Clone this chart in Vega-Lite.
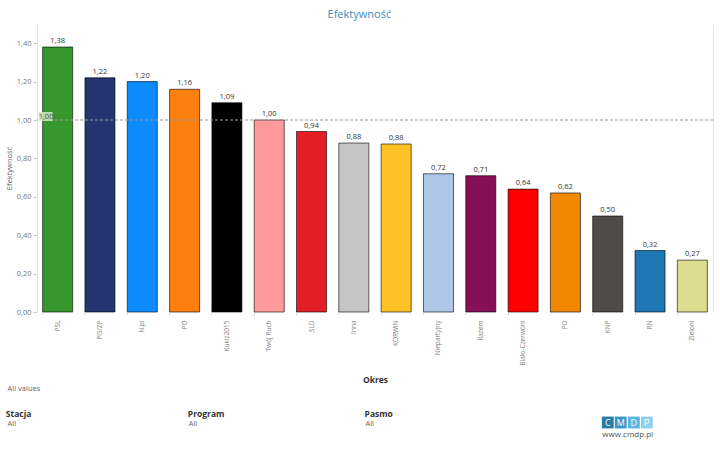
{
  "$schema": "https://vega.github.io/schema/vega-lite/v6.json",
  "background": "white",
  "padding": {"left": 5, "top": 9, "right": 6, "bottom": 0},
  "config": {
    "font": "Open Sans",
    "view": {"stroke": null},
    "locale": {"number": {"decimal": ",", "thousands": " ", "grouping": [3], "currency": ["", " zł"]}},
    "concat": {"spacing": 0}
  },
  "resolve": {"scale": {"color": "independent", "x": "independent", "y": "independent"}},
  "vconcat": [
    {
      "width": 676,
      "height": 288,
      "title": {"text": "Efektywność", "fontSize": 11, "fontWeight": "normal", "color": "#3a8dbd", "anchor": "middle", "frame": "bounds", "offset": 4},
      "layer": [
        {
          "data": {"values": [
            {"party": "PSL", "eff": 1.38},
            {"party": "PiS/ZP", "eff": 1.22},
            {"party": "N.pl", "eff": 1.20},
            {"party": "PO", "eff": 1.16},
            {"party": "Kukiz2015", "eff": 1.09},
            {"party": "Twój Ruch", "eff": 1.00},
            {"party": "SLD", "eff": 0.94},
            {"party": "Inna", "eff": 0.88},
            {"party": "KORWiN", "eff": 0.875},
            {"party": "Niepartyjny", "eff": 0.72},
            {"party": "Razem", "eff": 0.71},
            {"party": "Biało-Czerwoni", "eff": 0.64},
            {"party": "PD", "eff": 0.62},
            {"party": "KNP", "eff": 0.50},
            {"party": "RN", "eff": 0.32},
            {"party": "Zieloni", "eff": 0.27}
          ]},
          "layer": [
            {
              "mark": {"type": "bar", "stroke": "#000", "strokeOpacity": 0.6, "strokeWidth": 1},
              "encoding": {
                "x": {
                  "field": "party", "type": "nominal", "sort": null,
                  "scale": {"paddingInner": 0.29, "paddingOuter": 0.133},
                  "axis": {
                    "title": "Okres", "titleFontWeight": "bold", "titleFontSize": 8.5, "titleColor": "#333", "titlePadding": 10,
                    "labelAngle": -90, "labelFontSize": 6.5, "labelColor": "#808080", "labelPadding": 5,
                    "domain": false, "ticks": true, "bandPosition": 0, "tickColor": "#ddd", "tickSize": 3
                  }
                },
                "y": {
                  "field": "eff", "type": "quantitative",
                  "scale": {"domain": [0, 1.5]},
                  "axis": {
                    "values": [0, 0.2, 0.4, 0.6, 0.8, 1.0, 1.2, 1.4], "format": ".2f",
                    "title": "Efektywność", "titleFontSize": 7.5, "titleFontWeight": "normal", "titleColor": "#666", "titlePadding": 3,
                    "labelFontSize": 7.5, "labelColor": "#777", "labelPadding": 2,
                    "domainColor": "#e6e6e6", "tickColor": "#ccc", "tickSize": 4, "grid": false
                  }
                },
                "color": {
                  "field": "party", "type": "nominal", "legend": null,
                  "scale": {
                    "domain": ["PSL", "PiS/ZP", "N.pl", "PO", "Kukiz2015", "Twój Ruch", "SLD", "Inna", "KORWiN", "Niepartyjny", "Razem", "Biało-Czerwoni", "PD", "KNP", "RN", "Zieloni"],
                    "range": ["#37962e", "#253571", "#0b8bfd", "#fd7f10", "#000000", "#fe9a9a", "#e31e26", "#c5c5c5", "#fcc226", "#aec7e8", "#870f55", "#fe0000", "#f28700", "#504a4a", "#1f77b4", "#dbdc8d"]
                  }
                }
              }
            },
            {
              "mark": {"type": "text", "dy": -6, "fontSize": 7.5, "color": "#333"},
              "encoding": {
                "x": {"field": "party", "type": "nominal", "sort": null},
                "y": {"field": "eff", "type": "quantitative", "scale": {"domain": [0, 1.5]}},
                "text": {"field": "eff", "type": "quantitative", "format": ".2f"}
              }
            }
          ]
        },
        {
          "data": {"values": [{"ref": 1.0, "party": "PSL"}]},
          "layer": [
            {
              "mark": {"type": "rule", "strokeDash": [3, 2], "color": "#999", "strokeWidth": 1},
              "encoding": {
                "y": {"field": "ref", "type": "quantitative", "scale": {"domain": [0, 1.5]},
                  "axis": {"orient": "right", "labels": false, "ticks": false, "title": null, "domainColor": "#e3e3e3", "grid": false}}
              }
            },
            {
              "mark": {"type": "point", "shape": "M-1,-0.64L1,-0.64L1,0.64L-1,0.64Z", "size": 196, "filled": true, "fill": "#cde8bf", "opacity": 0.85, "xOffset": 3, "yOffset": -3.5},
              "encoding": {
                "x": {"field": "party", "type": "nominal", "sort": null, "bandPosition": 0},
                "y": {"field": "ref", "type": "quantitative", "scale": {"domain": [0, 1.5]}}
              }
            },
            {
              "mark": {"type": "text", "align": "left", "baseline": "middle", "dx": -4, "yOffset": -3.5, "fontSize": 7.5, "color": "#555"},
              "encoding": {
                "x": {"field": "party", "type": "nominal", "sort": null, "bandPosition": 0},
                "y": {"field": "ref", "type": "quantitative", "scale": {"domain": [0, 1.5]}},
                "text": {"field": "ref", "type": "quantitative", "format": ".2f"}
              }
            }
          ]
        }
      ],
      "resolve": {"axis": {"y": "independent"}}
    },
    {
      "width": 670,
      "height": 60,
      "data": {"values": [
        {"t": "All values", "kind": "val", "col": 0.01, "row": 0.5},
        {"t": "Stacja", "kind": "head", "col": 0, "row": 3},
        {"t": "All", "kind": "val", "col": 0.01, "row": 4},
        {"t": "Program", "kind": "head", "col": 1.04, "row": 3},
        {"t": "All", "kind": "val", "col": 1.045, "row": 4},
        {"t": "Pasmo", "kind": "head", "col": 2.05, "row": 3},
        {"t": "All", "kind": "val", "col": 2.055, "row": 4}
      ]},
      "encoding": {
        "x": {"field": "col", "type": "quantitative", "scale": {"domain": [0.178, 4.007]}, "axis": null},
        "y": {"field": "row", "type": "quantitative", "scale": {"domain": [0, 6], "reverse": true}, "axis": null}
      },
      "layer": [
        {
          "transform": [{"filter": "datum.kind === 'head'"}],
          "mark": {"type": "text", "align": "left", "baseline": "middle", "fontSize": 8.5, "fontWeight": "bold", "color": "#333"},
          "encoding": {"text": {"field": "t"}}
        },
        {
          "transform": [{"filter": "datum.kind === 'val'"}],
          "mark": {"type": "text", "align": "left", "baseline": "middle", "fontSize": 7.5, "color": "#666"},
          "encoding": {"text": {"field": "t"}}
        },
        {
          "data": {"values": [
            {"letter": "C", "col": 3.44, "row": 3.85},
            {"letter": "M", "col": 3.514, "row": 3.85},
            {"letter": "D", "col": 3.589, "row": 3.85},
            {"letter": "P", "col": 3.663, "row": 3.85}
          ]},
          "layer": [
            {
              "mark": {"type": "point", "shape": "square", "size": 140, "filled": true, "opacity": 1},
              "encoding": {
                "color": {"field": "letter", "type": "nominal", "legend": null,
                  "scale": {"domain": ["C", "M", "D", "P"], "range": ["#2a7ca3", "#3a96c6", "#58b6e1", "#8dcfec"]}}
              }
            },
            {
              "mark": {"type": "text", "align": "center", "baseline": "middle", "fontSize": 9, "color": "white"},
              "encoding": {"text": {"field": "letter"}}
            }
          ]
        },
        {
          "data": {"values": [{"t": "www.cmdp.pl", "col": 3.554, "row": 5.05}]},
          "mark": {"type": "text", "align": "center", "baseline": "middle", "fontSize": 8, "color": "#555"},
          "encoding": {"text": {"field": "t"}}
        }
      ]
    }
  ]
}
